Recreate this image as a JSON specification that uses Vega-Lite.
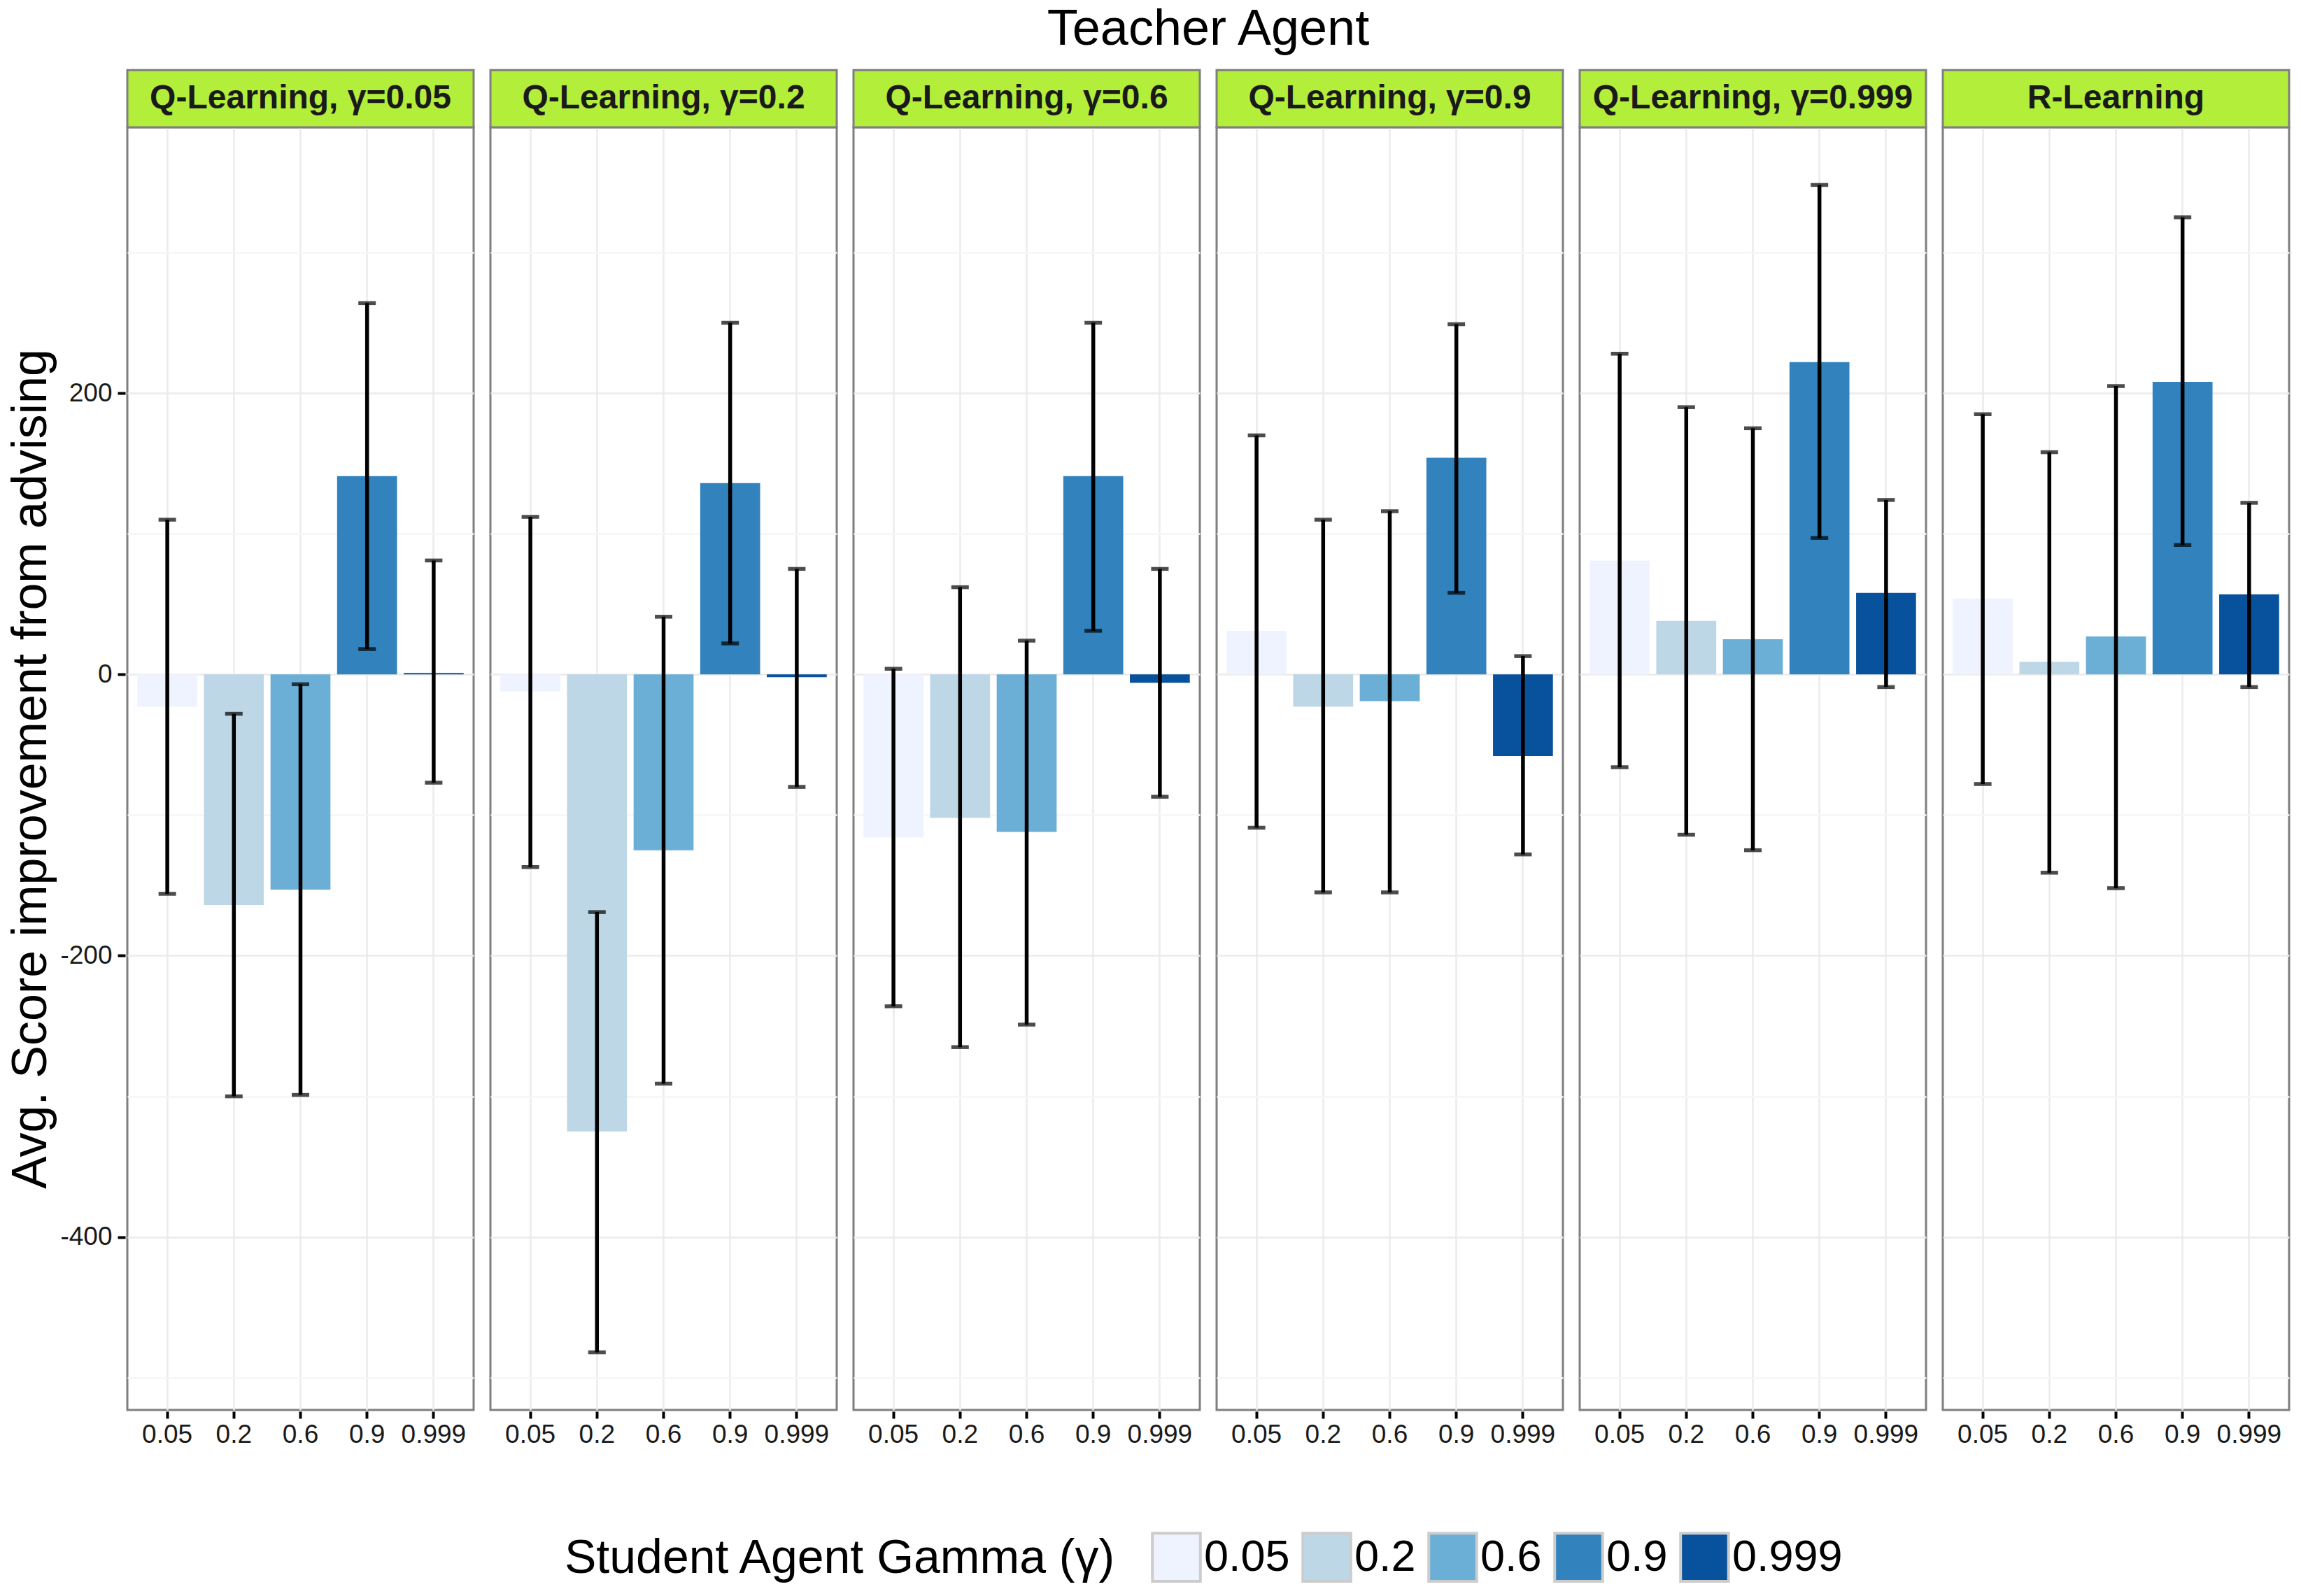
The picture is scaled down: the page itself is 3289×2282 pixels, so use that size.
{
  "$schema": "https://vega.github.io/schema/vega-lite/v6.json",
  "background": "white",
  "padding": {"left": 9, "top": 6, "right": 12, "bottom": 12},
  "config": {
    "font": "Liberation Sans",
    "view": {"stroke": "#7F7F7F", "strokeWidth": 3}
  },
  "data": {
    "values": [
      {"teacher": "Q-Learning, γ=0.05", "student": "0.05", "score": -23, "hi": 110, "lo": -156},
      {"teacher": "Q-Learning, γ=0.05", "student": "0.2", "score": -164, "hi": -28, "lo": -300},
      {"teacher": "Q-Learning, γ=0.05", "student": "0.6", "score": -153, "hi": -7, "lo": -299},
      {"teacher": "Q-Learning, γ=0.05", "student": "0.9", "score": 141, "hi": 264, "lo": 18},
      {"teacher": "Q-Learning, γ=0.05", "student": "0.999", "score": 1, "hi": 81, "lo": -77},
      {"teacher": "Q-Learning, γ=0.2", "student": "0.05", "score": -12, "hi": 112, "lo": -137},
      {"teacher": "Q-Learning, γ=0.2", "student": "0.2", "score": -325, "hi": -169, "lo": -482},
      {"teacher": "Q-Learning, γ=0.2", "student": "0.6", "score": -125, "hi": 41, "lo": -291},
      {"teacher": "Q-Learning, γ=0.2", "student": "0.9", "score": 136, "hi": 250, "lo": 22},
      {"teacher": "Q-Learning, γ=0.2", "student": "0.999", "score": -2, "hi": 75, "lo": -80},
      {"teacher": "Q-Learning, γ=0.6", "student": "0.05", "score": -116, "hi": 4, "lo": -236},
      {"teacher": "Q-Learning, γ=0.6", "student": "0.2", "score": -102, "hi": 62, "lo": -265},
      {"teacher": "Q-Learning, γ=0.6", "student": "0.6", "score": -112, "hi": 24, "lo": -249},
      {"teacher": "Q-Learning, γ=0.6", "student": "0.9", "score": 141, "hi": 250, "lo": 31},
      {"teacher": "Q-Learning, γ=0.6", "student": "0.999", "score": -6, "hi": 75, "lo": -87},
      {"teacher": "Q-Learning, γ=0.9", "student": "0.05", "score": 31, "hi": 170, "lo": -109},
      {"teacher": "Q-Learning, γ=0.9", "student": "0.2", "score": -23, "hi": 110, "lo": -155},
      {"teacher": "Q-Learning, γ=0.9", "student": "0.6", "score": -19, "hi": 116, "lo": -155},
      {"teacher": "Q-Learning, γ=0.9", "student": "0.9", "score": 154, "hi": 249, "lo": 58},
      {"teacher": "Q-Learning, γ=0.9", "student": "0.999", "score": -58, "hi": 13, "lo": -128},
      {"teacher": "Q-Learning, γ=0.999", "student": "0.05", "score": 81, "hi": 228, "lo": -66},
      {"teacher": "Q-Learning, γ=0.999", "student": "0.2", "score": 38, "hi": 190, "lo": -114},
      {"teacher": "Q-Learning, γ=0.999", "student": "0.6", "score": 25, "hi": 175, "lo": -125},
      {"teacher": "Q-Learning, γ=0.999", "student": "0.9", "score": 222, "hi": 348, "lo": 97},
      {"teacher": "Q-Learning, γ=0.999", "student": "0.999", "score": 58, "hi": 124, "lo": -9},
      {"teacher": "R-Learning", "student": "0.05", "score": 54, "hi": 185, "lo": -78},
      {"teacher": "R-Learning", "student": "0.2", "score": 9, "hi": 158, "lo": -141},
      {"teacher": "R-Learning", "student": "0.6", "score": 27, "hi": 205, "lo": -152},
      {"teacher": "R-Learning", "student": "0.9", "score": 208, "hi": 325, "lo": 92},
      {"teacher": "R-Learning", "student": "0.999", "score": 57, "hi": 122, "lo": -9}
    ]
  },
  "facet": {
    "column": {
      "field": "teacher",
      "type": "nominal",
      "sort": ["Q-Learning, γ=0.05", "Q-Learning, γ=0.2", "Q-Learning, γ=0.6", "Q-Learning, γ=0.9", "Q-Learning, γ=0.999", "R-Learning"],
      "header": {
        "title": "Teacher Agent",
        "titleFontSize": 72,
        "titleFontWeight": "normal",
        "titleColor": "black",
        "titlePadding": 8,
        "labels": false
      }
    }
  },
  "spacing": 18,
  "spec": {
    "width": 495,
    "height": 1834,
    "view": {"fill": "white", "stroke": "#7F7F7F", "strokeWidth": 3},
    "layer": [
      {
        "mark": {"type": "bar"},
        "encoding": {
          "x": {
            "field": "student",
            "type": "nominal",
            "sort": ["0.05", "0.2", "0.6", "0.9", "0.999"],
            "scale": {"paddingInner": 0.1, "paddingOuter": 0.15},
            "axis": {
              "title": null,
              "labelAngle": 0,
              "labelFontSize": 37,
              "labelColor": "#1A1A1A",
              "labelPadding": 5,
              "tickColor": "black",
              "tickWidth": 4,
              "tickSize": 10,
              "domain": false,
              "grid": true,
              "gridColor": "#EBEBEB",
              "gridWidth": 2.5,
              "bandPosition": 0.5
            }
          },
          "y": {
            "field": "score",
            "type": "quantitative",
            "title": "Avg. Score improvement from advising",
            "scale": {"domain": [-523, 389], "nice": false},
            "axis": {
              "values": [-400, -200, 0, 200],
              "labelExpr": "'' + datum.value",
              "labelFontSize": 37,
              "labelColor": "#1A1A1A",
              "labelPadding": 8,
              "tickColor": "black",
              "tickWidth": 4,
              "tickSize": 11,
              "domain": false,
              "grid": true,
              "gridColor": "#EBEBEB",
              "gridWidth": 2.5,
              "titleFontSize": 70,
              "titleFontWeight": "normal",
              "titleColor": "black",
              "titlePadding": 5
            }
          },
          "color": {
            "field": "student",
            "type": "nominal",
            "sort": ["0.05", "0.2", "0.6", "0.9", "0.999"],
            "scale": {
              "domain": ["0.05", "0.2", "0.6", "0.9", "0.999"],
              "range": ["#EFF3FF", "#BDD7E7", "#6BAED6", "#3182BD", "#08519C"]
            },
            "legend": {
              "title": "Student Agent Gamma (γ)",
              "orient": "none",
              "legendX": 625,
              "legendY": 2008,
              "direction": "horizontal",
              "titleOrient": "left",
              "titleFontSize": 68,
              "titleFontWeight": "normal",
              "titleColor": "black",
              "titlePadding": 48,
              "titleLimit": 1200,
              "labelFontSize": 63,
              "labelColor": "black",
              "labelOffset": 3,
              "labelLimit": 400,
              "columnPadding": 10,
              "symbolType": "square",
              "symbolSize": 4700,
              "symbolStrokeColor": "#CCCCCC",
              "symbolStrokeWidth": 4
            }
          }
        }
      },
      {
        "mark": {
          "type": "errorbar",
          "ticks": {"thickness": 5.5},
          "rule": {"strokeWidth": 5.5},
          "thickness": 5.5,
          "size": 25,
          "color": "black"
        },
        "encoding": {
          "x": {
            "field": "student",
            "type": "nominal",
            "sort": ["0.05", "0.2", "0.6", "0.9", "0.999"]
          },
          "y": {
            "field": "lo",
            "type": "quantitative",
            "title": "Avg. Score improvement from advising",
            "axis": {
              "orient": "right",
              "values": [-500, -300, -100, 100, 300],
              "labels": false,
              "ticks": false,
              "domain": false,
              "title": null,
              "grid": true,
              "gridColor": "#F6F6F6",
              "gridWidth": 2.5
            }
          },
          "y2": {"field": "hi"}
        }
      },
      {
        "transform": [{"aggregate": [{"op": "count", "as": "n"}], "groupby": ["teacher"]}],
        "mark": {"type": "rect", "fill": "#B3EE3A", "stroke": "#7F7F7F", "strokeWidth": 3, "clip": false},
        "encoding": {
          "y": {"datum": 389, "type": "quantitative", "axis": null},
          "y2": {"datum": 429.7}
        }
      },
      {
        "transform": [{"aggregate": [{"op": "count", "as": "n"}], "groupby": ["teacher"]}],
        "mark": {"type": "text", "fontSize": 48, "fontWeight": "bold", "color": "#1A1A1A", "baseline": "middle", "align": "center", "clip": false},
        "encoding": {
          "y": {"datum": 409.4, "type": "quantitative", "axis": null},
          "text": {"field": "teacher", "type": "nominal"}
        }
      }
    ],
    "resolve": {"axis": {"y": "independent"}}
  }
}
